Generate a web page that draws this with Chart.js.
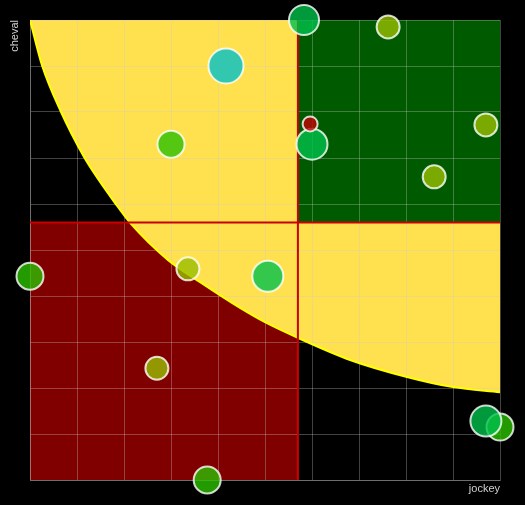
<!DOCTYPE html>
<html>
<head>
<meta charset="utf-8">
<script src="https://cdn.jsdelivr.net/npm/chart.js@4"></script>
<style>
  body { margin: 0; background: #000; }
  canvas { display: block; }
</style>
</head>
<body>
<canvas id="chart" width="525" height="505"></canvas>
<script>
// bubble values (jockey = x, cheval = y, r = radius in px)
const bubbleX = [5.83, 7.62, 4.17, 6.0, 5.96, 9.70, 3.0, 8.60, 0, 3.36, 5.06, 2.70, 10.0, 9.70, 3.77];
const bubbleY = [10.0, 9.85, 9.0, 7.30, 7.74, 7.72, 7.30, 6.59, 4.43, 4.59, 4.43, 2.43, 1.15, 1.28, 0];
const bubbleR = [15, 11.5, 17.5, 15.5, 7.5, 11.5, 13.5, 11.5, 13.5, 11.5, 15.5, 11.5, 13.5, 15.5, 13.5];
const bubbleColor = ["g1", "ol", "te", "g1", "rd", "ol", "g2", "ol", "g2", "ol", "g1", "ol", "g2", "g1", "g2"];

// yellow curve
const curveX = [0, 0.26, 0.66, 1.15, 1.32, 1.81, 2.13, 2.94, 3.62, 4.47, 5.0, 5.70, 6.81, 8.02, 9.0, 10];
const curveY = [10, 9.0, 8.0, 7.02, 6.74, 6.02, 5.59, 4.78, 4.30, 3.74, 3.43, 3.09, 2.61, 2.24, 2.02, 1.91];

// quadrant limits
const limitX = 5.7;
const limitY = 5.6;
const axisMin = 0;
const axisMax = 10;

const palette = {
    g1: "rgba(0, 192, 75, 0.8)",
    g2: "rgba(42, 192, 0, 0.8)",
    ol: "rgba(153, 190, 0, 0.8)",
    te: "rgba(0, 192, 200, 0.8)",
    rd: "rgba(192, 0, 0, 0.8)"
};

const gridColor = "rgba(200, 200, 200, 0.33)";

const bubbles = bubbleX.map((x, i) => ({ x: x, y: bubbleY[i], r: bubbleR[i] }));
const curve = curveX.map((x, i) => ({ x: x, y: curveY[i] }));

const flat = { pointRadius: 0, pointHoverRadius: 0 };

new Chart(document.getElementById("chart"), {
    type: "bubble",
    data: {
        datasets: [
            {
                data: bubbles,
                backgroundColor: bubbleColor.map(c => palette[c]),
                borderColor: "rgba(255, 255, 255, 0.8)",
                borderWidth: 2,
                clip: false,
                order: 0
            },
            {
                type: "line", ...flat,
                data: [{ x: axisMin, y: limitY }, { x: axisMax, y: limitY }],
                borderColor: "#c80000", borderWidth: 2, fill: false, order: 1
            },
            {
                type: "line", ...flat,
                data: [{ x: limitX, y: axisMin }, { x: limitX, y: axisMax }],
                borderColor: "#c80000", borderWidth: 2, fill: false, order: 1
            },
            {
                type: "line", ...flat,
                data: [{ x: limitX, y: limitY }, { x: axisMax, y: limitY }],
                borderWidth: 0, backgroundColor: "#005a00", fill: "end", order: 2
            },
            {
                type: "line", ...flat,
                data: curve,
                cubicInterpolationMode: "monotone",
                borderColor: "#ffff00", borderWidth: 2,
                backgroundColor: "rgb(255, 225, 80)", fill: "end", order: 3
            },
            {
                type: "line", ...flat,
                data: [{ x: axisMin, y: limitY }, { x: limitX, y: limitY }],
                borderWidth: 0, backgroundColor: "#800000", fill: "start", order: 4
            }
        ]
    },
    options: {
        responsive: false,
        animation: false,
        events: [],
        layout: { padding: { left: 8.8, top: 20, right: 25, bottom: 9.8 } },
        plugins: {
            legend: { display: false },
            tooltip: { enabled: false },
            filler: { drawTime: "beforeDraw" }
        },
        scales: {
            x: {
                type: "linear", min: axisMin, max: axisMax,
                ticks: { display: false, stepSize: 1 },
                grid: { color: gridColor, drawTicks: false },
                border: { color: gridColor },
                title: {
                    display: true, text: "jockey", align: "end", color: "#d0d0d0",
                    font: { family: "'Liberation Sans', Arial, sans-serif", size: 11 },
                    padding: { top: 2, bottom: 0 }
                }
            },
            y: {
                type: "linear", min: axisMin, max: axisMax,
                ticks: { display: false, stepSize: 1 },
                grid: { color: gridColor, drawTicks: false },
                border: { color: gridColor },
                title: {
                    display: true, text: "cheval", align: "end", color: "#d0d0d0",
                    font: { family: "'Liberation Sans', Arial, sans-serif", size: 11 },
                    padding: { top: 0, bottom: 8 }
                }
            }
        }
    }
});
</script>
</body>
</html>
